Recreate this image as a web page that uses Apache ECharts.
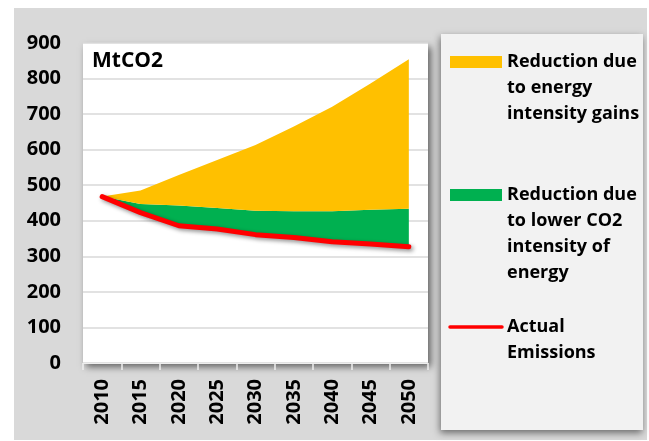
<!DOCTYPE html>
<html>
<head>
<meta charset="utf-8">
<script src="https://cdn.jsdelivr.net/npm/echarts@6/dist/echarts.min.js"></script>
<style>
html,body{margin:0;padding:0;background:#fff;}
#c{width:649px;height:441px;}
</style>
</head>
<body>
<div id="c"></div>
<script>
// Data (MtCO2)
var years = ['2010','2015','2020','2025','2030','2035','2040','2045','2050'];
var withoutAnyGains = [468, 485, 529, 571, 613, 665, 721, 786, 854];   // top of yellow area
var withIntensityGains = [468, 447, 443, 436, 428, 427, 427, 431, 434]; // top of green area
var actualEmissions = [468, 423, 386, 377, 361, 353, 341, 335, 327];   // red line
var yTicks = [0, 100, 200, 300, 400, 500, 600, 700, 800, 900];

var greenPart = withIntensityGains.map(function (v, i) { return v - actualEmissions[i]; });
var yellowPart = withoutAnyGains.map(function (v, i) { return v - withIntensityGains[i]; });

var FONT = '"Open Sans"';
var chart = echarts.init(document.getElementById('c'), null, {renderer: 'canvas'});

chart.setOption({
  backgroundColor: '#ffffff',
  animation: false,
  grid: {
    left: 83, top: 43, width: 345, height: 320,
    show: true, backgroundColor: '#ffffff', borderWidth: 0,
    shadowColor: 'rgba(0,0,0,0.55)', shadowBlur: 7, shadowOffsetX: 3, shadowOffsetY: 4
  },
  xAxis: {
    type: 'category',
    data: years,
    boundaryGap: true,
    axisLine: {show: true, lineStyle: {color: '#eeeeee', width: 1}},
    axisTick: {show: true, length: 7, lineStyle: {color: '#eeeeee', width: 1.5}},
    axisLabel: {rotate: 90, margin: 16, color: '#000', fontFamily: FONT, fontWeight: 'bold', fontSize: 20}
  },
  yAxis: {
    type: 'value',
    min: yTicks[0], max: yTicks[yTicks.length - 1], interval: 100,
    axisLine: {show: false},
    axisTick: {show: false},
    splitLine: {show: true, lineStyle: {color: '#d9d9d9', width: 1.5}},
    axisLabel: {margin: 22, color: '#000', fontFamily: FONT, fontWeight: 'bold', fontSize: 20,
      formatter: function (v) { return yTicks.indexOf(v) >= 0 ? String(v) : ''; }}
  },
  series: [
    {
      name: 'base', type: 'line', stack: 'em', data: actualEmissions,
      symbol: 'none', lineStyle: {width: 0, opacity: 0}, areaStyle: {opacity: 0}, silent: true, z: 2
    },
    {
      name: 'Reduction due to lower CO2 intensity of energy', type: 'line', stack: 'em', data: greenPart,
      symbol: 'none', lineStyle: {width: 0, opacity: 0}, areaStyle: {color: '#00b050', opacity: 1}, z: 2
    },
    {
      name: 'Reduction due to energy intensity gains', type: 'line', stack: 'em', data: yellowPart,
      symbol: 'none', lineStyle: {width: 0, opacity: 0}, areaStyle: {color: '#ffc000', opacity: 1}, z: 2
    },
    {
      name: 'Actual Emissions', type: 'line', data: actualEmissions,
      symbol: 'none',
      lineStyle: {color: '#ff0000', width: 5, cap: 'round', join: 'round',
        shadowColor: 'rgba(0,0,0,0.45)', shadowBlur: 4, shadowOffsetX: 2, shadowOffsetY: 2},
      z: 5
    }
  ],
  graphic: [
    {type: 'rect', silent: true, z: -20, shape: {x: 14, y: 8, width: 633, height: 432}, style: {fill: '#d9d9d9'}},
    {type: 'rect', silent: true, z: -10, shape: {x: 441, y: 34, width: 202, height: 396},
      style: {fill: '#f2f2f2', shadowColor: 'rgba(0,0,0,0.5)', shadowBlur: 7, shadowOffsetX: -1, shadowOffsetY: 3}},
    {type: 'text', z: 10, x: 92, y: 61.5, style: {text: 'MtCO2', fill: '#000', font: 'bold 21px ' + FONT, textVerticalAlign: 'middle'}},
    {type: 'rect', z: 10, shape: {x: 450, y: 56, width: 52, height: 12}, style: {fill: '#ffc000'}},
    {type: 'text', z: 10, x: 507, y: 88, style: {text: 'Reduction due\nto energy\nintensity gains', fill: '#000', font: 'bold 18px ' + FONT, lineHeight: 26, textVerticalAlign: 'middle'}},
    {type: 'rect', z: 10, shape: {x: 450, y: 189, width: 52, height: 12}, style: {fill: '#00b050'}},
    {type: 'text', z: 10, x: 507, y: 234, style: {text: 'Reduction due\nto lower CO2\nintensity of\nenergy', fill: '#000', font: 'bold 18px ' + FONT, lineHeight: 26, textVerticalAlign: 'middle'}},
    {type: 'line', z: 10, shape: {x1: 450, y1: 327, x2: 502, y2: 327}, style: {stroke: '#ff0000', lineWidth: 3.5, lineCap: 'round'}},
    {type: 'text', z: 10, x: 507, y: 340, style: {text: 'Actual\nEmissions', fill: '#000', font: 'bold 18px ' + FONT, lineHeight: 26, textVerticalAlign: 'middle'}}
  ]
});
</script>
</body>
</html>
